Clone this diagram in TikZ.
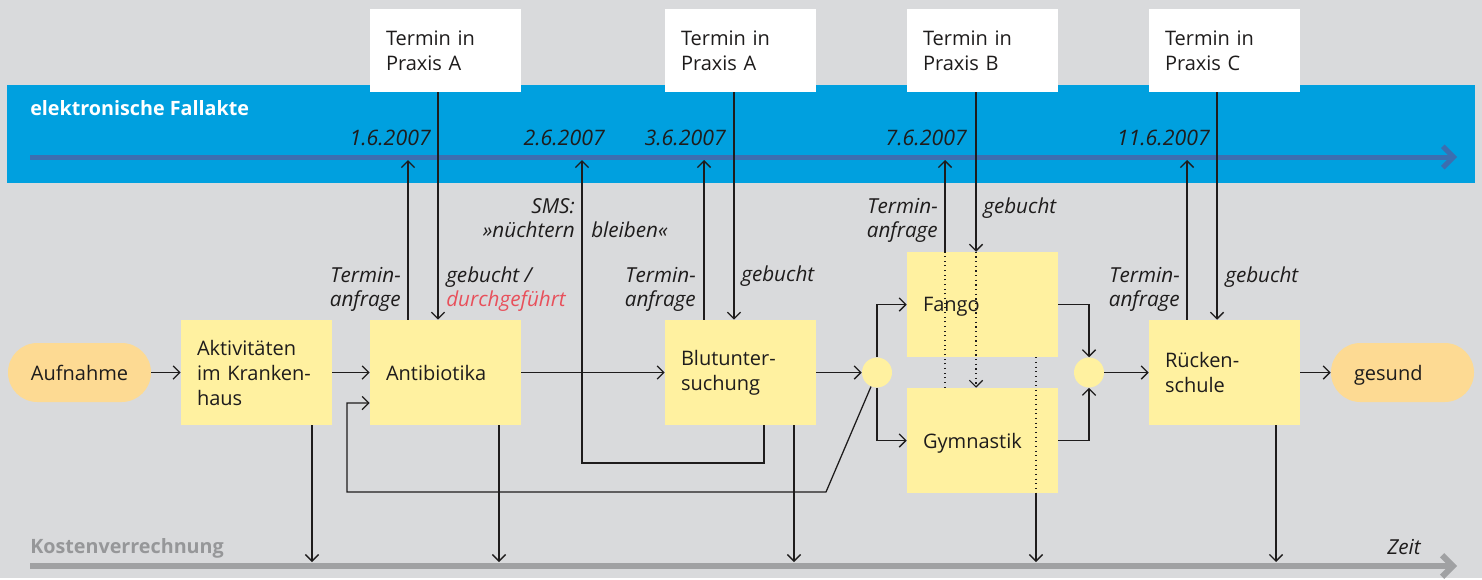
\documentclass[tikz,border=0pt]{standalone}
\usepackage{fontspec}
\setmainfont{Open Sans}
\usetikzlibrary{arrows.meta,calc}
\definecolor{bg}{RGB}{217,218,220}
\definecolor{band}{RGB}{0,160,223}
\definecolor{bandline}{RGB}{60,110,176}
\definecolor{proc}{RGB}{255,241,160}
\definecolor{terminal}{RGB}{253,218,147}
\definecolor{costgray}{RGB}{160,161,163}
\definecolor{costtext}{RGB}{150,151,153}
\definecolor{ink}{RGB}{30,28,28}
\definecolor{done}{RGB}{232,80,91}

\begin{document}
\begin{tikzpicture}[x=0.75pt, y=-0.75pt,
  every node/.style={text=ink, font=\fontsize{15}{18.75}\selectfont},
  procbox/.style={fill=proc, minimum width=113.25pt, minimum height=78.75pt,
    inner xsep=12pt, inner ysep=0pt, text width=89.25pt, align=left},
  oneline/.style={text depth=0pt},
  apptbox/.style={fill=white, minimum width=113.25pt, minimum height=62.25pt,
    inner xsep=12pt, inner ysep=0pt, text width=89.25pt, align=left},
  pill/.style={fill=terminal, rounded corners=22pt, minimum width=107.25pt,
    minimum height=44.25pt, inner xsep=17.25pt, inner ysep=0pt,
    text width=72.75pt, align=left, text depth=0pt},
  junction/.style={circle, fill=proc, minimum size=22.5pt, inner sep=0pt},
  arr/.style={draw=ink, line width=0.95pt, -{Straight Barb[length=5pt,width=10pt]}},
  dotline/.style={draw=ink, line width=0.9pt, dash pattern=on 0.9pt off 2.6pt},
  dotarr/.style={dotline, -{Straight Barb[length=5pt,width=10pt]}},
  lbl/.style={font=\itshape\fontsize{15.5}{18}\selectfont, inner sep=0pt},
  datelbl/.style={font=\itshape\fontsize{16}{18}\selectfont, inner sep=0pt, anchor=east},
  title/.style={font=\bfseries\fontsize{14.8}{16}\selectfont, inner sep=0pt, anchor=west},
  bandaxis/.style={draw=bandline, line width=3.75pt, -{Straight Barb[length=8pt,width=16pt]}},
  costaxis/.style={draw=costgray, line width=4.5pt, -{Straight Barb[length=8pt,width=16pt]}}
]
% canvas and electronic case file band
\fill[bg] (0,0) rectangle (1482,578);
\fill[band] (7,85) rectangle (1475,183);
\node[title, text=white] (fallakte) at (30,108) {elektronische Fallakte};
\coordinate (axisA) at (30,157);
\coordinate (axisB) at (1457,157);
\draw[bandaxis] (axisA) -- (axisB);

% appointments in the practices
\node[apptbox] (pA1) at (445.5,50.5) {Termin in\\Praxis A};
\node[apptbox] (pA2) at (740.5,50.5) {Termin in\\Praxis A};
\node[apptbox] (pB)  at (982.5,50.5) {Termin in\\Praxis B};
\node[apptbox] (pC)  at (1224.5,50.5) {Termin in\\Praxis C};

% dates on the case file axis
\node[datelbl] (d1) at (431,138) {1.6.2007};
\node[datelbl] (d2) at (605,138) {2.6.2007};
\node[datelbl] (d3) at (726,138) {3.6.2007};
\node[datelbl] (d4) at (967,138) {7.6.2007};
\node[datelbl] (d5) at (1210,138) {11.6.2007};

% process steps
\node[pill] (aufn) at (79.5,372.5) {Aufnahme};
\node[procbox] (akt) at (256.5,372.5) {Aktivitäten\\im Kranken-\\haus};
\node[procbox, oneline] (anti) at (445.5,372.5) {Antibiotika};
\node[procbox] (blut) at (740.5,372.5) {Blutunter-\\suchung};
\node[junction] (j1) at (877,372.5) {};
\node[procbox, oneline] (fango) at (982.5,304.5) {Fango};
\node[procbox, oneline] (gym) at (982.5,440.5) {Gymnastik};
\node[junction] (j2) at (1089,372.5) {};
\node[procbox] (ruecken) at (1224.5,372.5) {Rücken-\\schule};
\node[pill] (gesund) at (1402.5,372.5) {gesund};

% main flow
\draw[arr] (aufn) -- (akt);
\draw[arr] (akt) -- (anti);
\draw[arr] (anti) -- (blut);
\draw[arr] (blut) -- (j1);
\draw[arr] (j1.north) |- (fango.west);
\draw[arr] (j1.south) |- (gym.west);
\draw[arr] (fango.east) -| (j2.north);
\draw[arr] (gym.east) -| (j2.south);
\draw[arr] (j2) -- (ruecken);
\draw[arr] (ruecken) -- (gesund);

% loop back to the antibiotics
\coordinate (loopA) at (826,492);
\coordinate (loopB) at (347,492);
\draw[arr] (j1) -- (loopA) -- (loopB) |- ($(anti.west)+(0,30.5)$);

% requests up to the case file, bookings down from the practices
\coordinate (rq1) at (408,160);
\coordinate (sms) at (582,160);
\coordinate (rq2) at (704,160);
\coordinate (rq3) at (945,160);
\coordinate (rq4) at (1187,160);
\coordinate (bk1) at (438,0);
\coordinate (bk2) at (734,0);
\coordinate (bk3) at (976,0);
\coordinate (bk4) at (1217,0);

\draw[arr] (anti.north -| rq1) -- (rq1);
\draw[arr] (pA1.south -| bk1) -- (anti.north -| bk1);

\coordinate (smsLoop) at (764,463);
\draw[arr] (blut.south -| smsLoop) -- (smsLoop) -| (sms);

\draw[arr] (blut.north -| rq2) -- (rq2);
\draw[arr] (pA2.south -| bk2) -- (blut.north -| bk2);

\draw[arr] (fango.north -| rq3) -- (rq3);
\draw[dotline] (gym.north -| rq3) -- (fango.north -| rq3);
\draw[arr] (pB.south -| bk3) -- (fango.north -| bk3);
\draw[dotarr] (fango.north -| bk3) -- (gym.north -| bk3);

\draw[arr] (ruecken.north -| rq4) -- (rq4);
\draw[arr] (pC.south -| bk4) -- (ruecken.north -| bk4);

% cost accounting
\coordinate (c1) at (312,562);
\coordinate (c2) at (499,562);
\coordinate (c3) at (794,562);
\coordinate (c4) at (1036,562);
\coordinate (c5) at (1276,562);
\draw[arr] (akt.south -| c1) -- (c1);
\draw[arr] (anti.south -| c2) -- (c2);
\draw[arr] (blut.south -| c3) -- (c3);
\draw[dotline] (fango.south -| c4) -- (gym.south -| c4);
\draw[arr] (gym.south -| c4) -- (c4);
\draw[arr] (ruecken.south -| c5) -- (c5);

\coordinate (costA) at (30,566);
\coordinate (costB) at (1457,566);
\draw[costaxis] (costA) -- (costB);
\node[title, text=costtext] (kosten) at (30,548) {Kostenverrechnung};
\node[lbl, anchor=east] (zeit) at (1421,547) {Zeit};

% connector labels
\node[lbl, anchor=east, align=right] (req1) at (401,289) {Termin-\\anfrage};
\node[lbl, anchor=west, align=left] (book1) at (446,289) {gebucht /\\\textcolor{done}{durchgeführt}};
\node[lbl, anchor=east, align=right] (smsTxt) at (575,218) {SMS:\\»nüchtern};
\node[lbl, anchor=west] (smsTxt2) at (591,230) {bleiben«};
\node[lbl, anchor=east, align=right] (req2) at (696,289) {Termin-\\anfrage};
\node[lbl, anchor=west] (book2) at (741,276.5) {gebucht};
\node[lbl, anchor=east, align=right] (req3) at (938,220) {Termin-\\anfrage};
\node[lbl, anchor=west] (book3) at (983,208) {gebucht};
\node[lbl, anchor=east, align=right] (req4) at (1180,289) {Termin-\\anfrage};
\node[lbl, anchor=west] (book4) at (1225,277) {gebucht};
\end{tikzpicture}
\end{document}
